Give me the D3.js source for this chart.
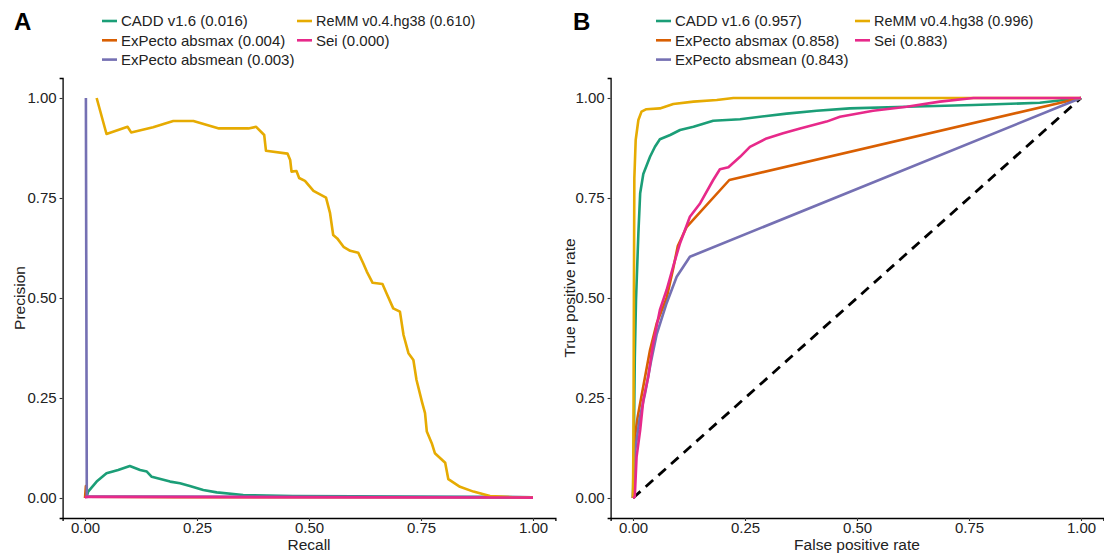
<!DOCTYPE html>
<html><head><meta charset="utf-8">
<script src="https://cdn.jsdelivr.net/npm/d3@7"></script>
<style>body{margin:0;background:#fff}svg{display:block}text{font-family:"Liberation Sans",Arial,sans-serif}</style>
</head><body><svg id="c" width="1104" height="556"></svg>
<script>
const seriesNames = ["CADD v1.6","ExPecto absmax","ExPecto absmean","ReMM v0.4.hg38","Sei"];
const seriesColors = ["#1B9E77","#D95F02","#7570B3","#E6AB02","#E7298A"];
const prAUC = ["0.016","0.004","0.003","0.610","0.000"];
const rocAUC = ["0.957","0.858","0.843","0.996","0.883"];
const tickValues = [0,0.25,0.5,0.75,1];
const tickLabels = ["0.00","0.25","0.50","0.75","1.00"];

// Precision-recall curves: [recall, precision]
const prCADD = [[0.003,0.0],[0.007,0.016],[0.026,0.041],[0.048,0.062],[0.074,0.07],[0.10,0.08],[0.123,0.07],[0.138,0.066],[0.149,0.053],[0.19,0.041],[0.212,0.037],[0.234,0.03],[0.264,0.02],[0.294,0.014],[0.353,0.0075],[0.464,0.005],[0.6,0.004],[0.8,0.003],[1.0,0.002]];
const prAbsmax = [[0.0,0.0],[0.002,0.03],[0.004,0.003],[0.2,0.002],[1.0,0.002]];
const prAbsmean = [[0.002,1.0],[0.004,0.004],[1.0,0.002]];
const prReMM = [[0.026,1.0],[0.048,0.91],[0.095,0.928],[0.103,0.914],[0.152,0.927],[0.197,0.9425],[0.242,0.9425],[0.299,0.924],[0.365,0.924],[0.382,0.928],[0.40,0.9075],[0.404,0.868],[0.452,0.861],[0.458,0.845],[0.461,0.816],[0.472,0.8175],[0.478,0.80],[0.491,0.793],[0.51,0.768],[0.538,0.751],[0.547,0.712],[0.554,0.6575],[0.563,0.649],[0.577,0.628],[0.592,0.618],[0.61,0.613],[0.621,0.587],[0.629,0.566],[0.642,0.538],[0.664,0.535],[0.673,0.512],[0.688,0.474],[0.703,0.466],[0.711,0.4075],[0.722,0.362],[0.733,0.345],[0.74,0.295],[0.752,0.241],[0.759,0.212],[0.763,0.166],[0.774,0.137],[0.781,0.112],[0.804,0.088],[0.811,0.047],[0.837,0.028],[0.867,0.016],[0.904,0.005],[0.955,0.002],[1.0,0.001]];
const prSei = [[0.0,0.0],[0.003,0.003],[1.0,0.001]];

// ROC curves: [false positive rate, true positive rate]
const rocCADD = [[0,0],[0.002,0.15],[0.004,0.35],[0.0067,0.495],[0.012,0.662],[0.016,0.762],[0.023,0.81],[0.038,0.853],[0.049,0.878],[0.06,0.897],[0.083,0.9075],[0.105,0.92],[0.135,0.928],[0.179,0.943],[0.239,0.947],[0.298,0.955],[0.343,0.961],[0.41,0.968],[0.484,0.974],[0.611,0.978],[0.76,0.9825],[0.908,0.988],[1,1]];
const rocAbsmax = [[0,0],[0.004,0.15],[0.01,0.2],[0.016,0.237],[0.038,0.37],[0.053,0.437],[0.075,0.5],[0.09,0.575],[0.1,0.63],[0.12,0.678],[0.215,0.795],[1,1]];
const rocAbsmean = [[0,0],[0.005,0.12],[0.015,0.2],[0.027,0.262],[0.04,0.34],[0.053,0.41],[0.075,0.487],[0.0975,0.553],[0.127,0.603],[1,1]];
const rocReMM = [[0,0],[0.001,0.15],[0.002,0.5],[0.003,0.8],[0.006,0.895],[0.012,0.945],[0.019,0.966],[0.03,0.972],[0.06,0.974],[0.09,0.985],[0.135,0.991],[0.187,0.995],[0.224,1.0],[1,1]];
const rocSei = [[0,0],[0.004,0.003],[0.008,0.103],[0.016,0.17],[0.023,0.245],[0.034,0.303],[0.045,0.387],[0.06,0.47],[0.075,0.52],[0.09,0.58],[0.105,0.637],[0.127,0.703],[0.15,0.737],[0.179,0.795],[0.194,0.822],[0.213,0.827],[0.239,0.853],[0.261,0.878],[0.298,0.899],[0.335,0.912],[0.373,0.924],[0.432,0.941],[0.462,0.953],[0.536,0.968],[0.611,0.978],[0.685,0.991],[0.76,1.0],[1,1]];
const diagonal = [[0,0],[1,1]];

const svg = d3.select("#c");

function panel(opts){
  const x = d3.scaleLinear().domain([-0.05,1.05]).range([opts.left, opts.left+492.8]);
  const y = d3.scaleLinear().domain([-0.05,1.05]).range([518,78]);
  const g = svg.append("g");
  const xa = g.append("g").attr("transform","translate(0,518)")
    .call(d3.axisBottom(x).tickValues(tickValues).tickFormat((d,i)=>tickLabels[i]).tickSize(3).tickPadding(1));
  const ya = g.append("g").attr("transform",`translate(${opts.left},0)`)
    .call(d3.axisLeft(y).tickValues(tickValues).tickFormat((d,i)=>tickLabels[i]).tickSize(3).tickPadding(3));
  [xa,ya].forEach(a=>{
    a.select(".domain").attr("stroke","#000").attr("stroke-width",1.3);
    a.selectAll(".tick line").attr("stroke","#333").attr("stroke-width",1.1);
    a.selectAll("text").attr("font-size",15).attr("fill","#222").attr("font-family","Liberation Sans, Arial, sans-serif");
  });
  const line = d3.line().x(d=>x(d[0])).y(d=>y(d[1]));
  if(opts.diag){
    g.append("path").attr("d",line(diagonal)).attr("fill","none").attr("stroke","#000")
      .attr("stroke-width",2.8).attr("stroke-dasharray","10,7");
  }
  opts.series.forEach((s,i)=>{
    g.append("path").attr("d",line(s)).attr("fill","none").attr("stroke",seriesColors[i])
      .attr("stroke-width",2.6).attr("stroke-linejoin","round");
  });
  // axis titles
  g.append("text").attr("x",(x(0)+x(1))/2).attr("y",550).attr("text-anchor","middle")
    .attr("font-size",15.5).attr("fill","#222").text(opts.xTitle);
  g.append("text").attr("transform",`translate(${opts.yTitleX},${y(0.5)}) rotate(-90)`).attr("text-anchor","middle")
    .attr("font-size",15.5).attr("fill","#222").text(opts.yTitle);
  // panel letter
  g.append("text").attr("x",opts.letterX).attr("y",30).attr("font-size",24).attr("font-weight","bold")
    .attr("fill","#000").text(opts.letter);
  // legend
  const rows = [[0,0],[0,1],[0,2],[1,0],[1,1]];
  seriesNames.forEach((n,i)=>{
    const cx = rows[i][0]===0 ? opts.legX1 : opts.legX2;
    const cy = 21 + rows[i][1]*19.3;
    g.append("line").attr("x1",cx).attr("x2",cx+15).attr("y1",cy).attr("y2",cy)
      .attr("stroke",seriesColors[i]).attr("stroke-width",2.6);
    const t = g.append("text").attr("x",cx+19).attr("y",cy+5.3).attr("font-size",15).attr("fill","#222")
      .text(`${n} (${opts.auc[i]})`);
    if(i===3) t.attr("font-family","DejaVu Sans, Verdana, sans-serif").attr("font-size",14.4);
  });
}

panel({left:62.6, series:[prCADD,prAbsmax,prAbsmean,prReMM,prSei], xTitle:"Recall", yTitle:"Precision",
  yTitleX:25, letter:"A", letterX:14, legX1:102, legX2:297, auc:prAUC, diag:false});
panel({left:610.6, series:[rocCADD,rocAbsmax,rocAbsmean,rocReMM,rocSei], xTitle:"False positive rate", yTitle:"True positive rate",
  yTitleX:575, letter:"B", letterX:573, legX1:656, legX2:855, auc:rocAUC, diag:true});
</script></body></html>
